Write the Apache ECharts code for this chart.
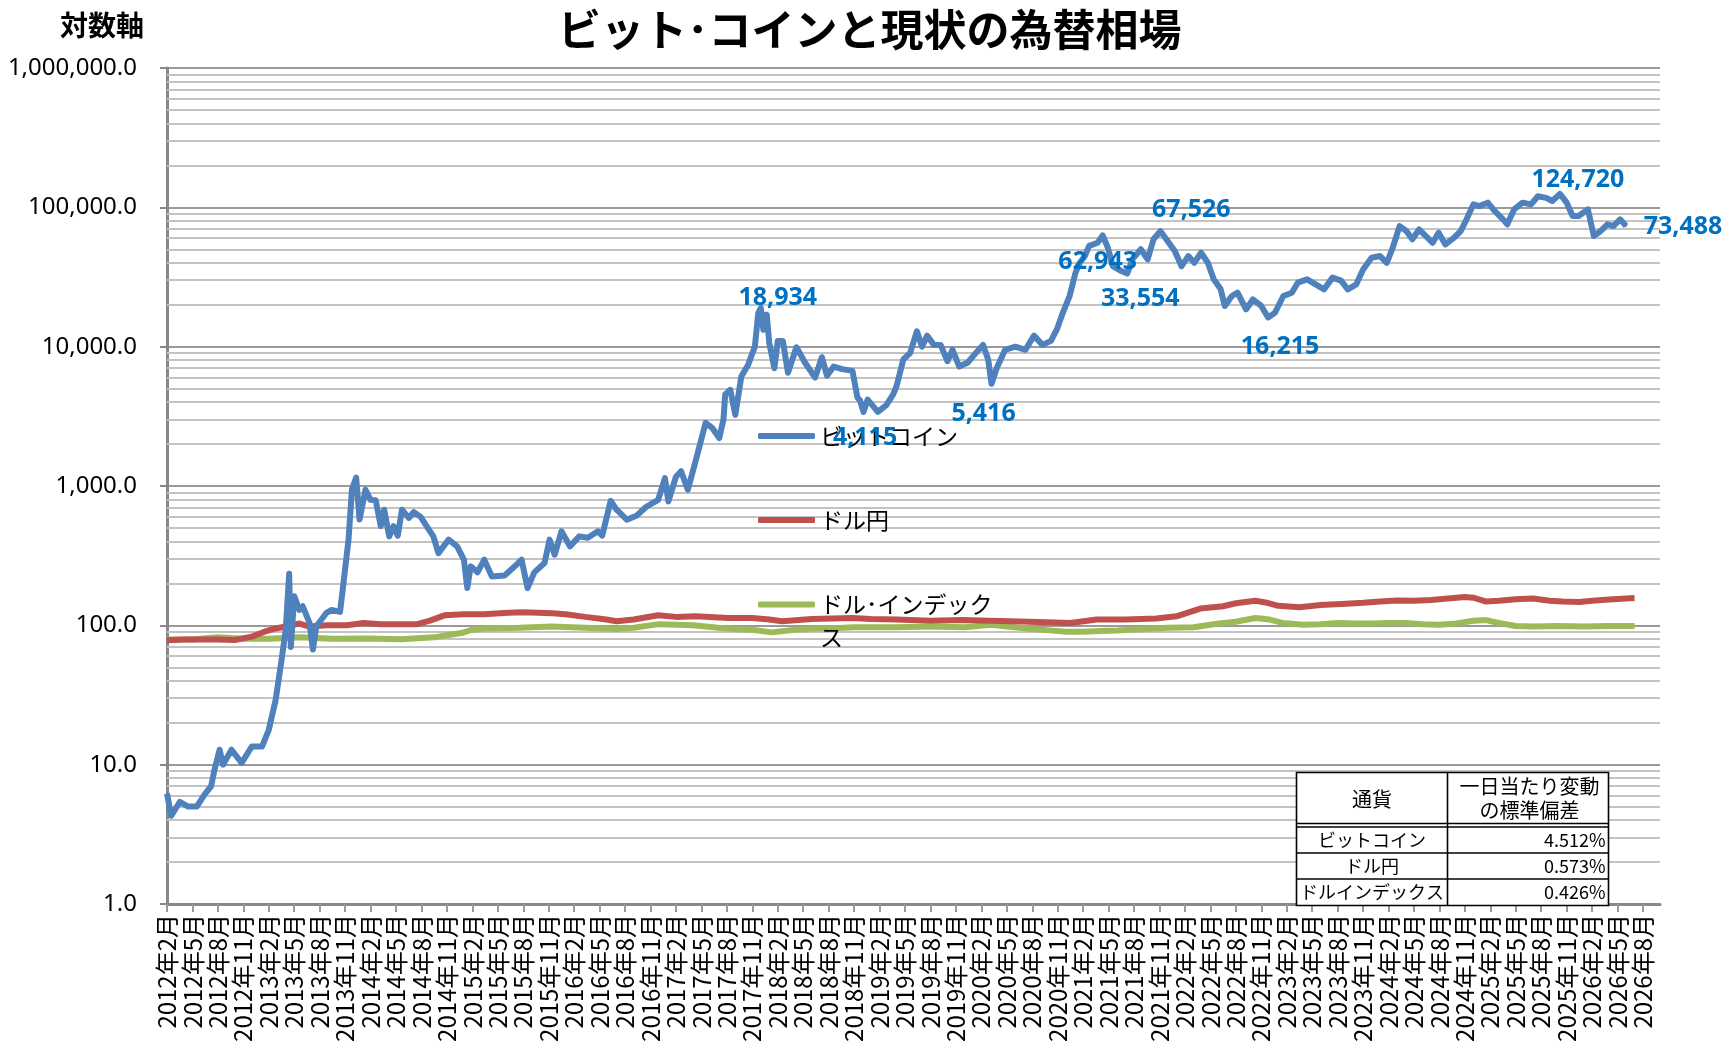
<!DOCTYPE html>
<html>
<head>
<meta charset="utf-8">
<script src="https://cdn.jsdelivr.net/npm/echarts@6/dist/echarts.min.js"></script>
<style>
  html, body { margin: 0; padding: 0; background: #fff; }
  #chart { width: 1727px; height: 1053px; }
</style>
</head>
<body>
<div id="chart"></div>
<script>
// x = months counted from 2012年2月 (0)
const btcMonths = [
  0, 0.5, 1.5, 2.5, 3.5, 4.5, 5.2, 5.6, 6.2, 6.6, 7.6, 8.8, 10, 11.2, 12, 12.8, 13.4, 14, 14.4, 14.6,
  15, 15.6, 16, 16.8, 17.2, 17.6, 18.8, 19.4, 20.4, 20.8, 21.4, 21.8, 22.3, 22.7, 23.4, 24, 24.6, 25.2, 25.6, 26.2,
  26.7, 27.2, 27.7, 28.5, 29.1, 29.9, 30.6, 31.4, 32, 33.2, 34.2, 35, 35.4, 35.8, 36.6, 37.4, 38.3, 39.8, 41, 41.8,
  42.5, 43.3, 44.5, 45.1, 45.7, 46.5, 47.5, 48.6, 49.6, 50.8, 51.3, 52.3, 53, 54.2, 55.4, 56.5, 57.9, 58.7, 59.1, 60,
  60.6, 61.4, 62.3, 63.5, 64.3, 65.1, 65.6, 65.8, 66.4, 67, 67.7, 68.5, 69.3, 69.7, 70, 70.3, 70.7, 71, 71.6, 72,
  72.6, 73.2, 74.2, 75.2, 76.4, 77.2, 77.8, 78.6, 79.6, 80.8, 81.4, 81.7, 82.1, 82.6, 83.8, 84.8, 85.6, 86, 86.8, 87.6,
  88.4, 89, 89.6, 90.4, 91.2, 92, 92.6, 93.4, 94.4, 95.2, 96.2, 96.8, 97.2, 97.8, 98.8, 100, 101.2, 102.2, 103.2, 104.2,
  104.9, 105.6, 106.4, 107.1, 107.6, 108.2, 108.7, 109.7, 110.3, 110.9, 111.5, 112.5, 113.2, 113.8, 114.8, 115.6, 116.3, 117.1, 117.8, 118.8,
  119.6, 120.4, 121.1, 121.9, 122.7, 123.4, 124.2, 124.7, 125.5, 126.2, 127.2, 128, 129, 129.8, 130.6, 131.6, 132.6, 133.3, 134.4, 135.4,
  136.4, 137.4, 138.4, 139.2, 140.2, 141, 142, 143, 143.8, 144.5, 145.3, 146.1, 146.8, 147.6, 148.4, 149.2, 149.9, 150.7, 151.7, 152.5,
  153.2, 154, 154.7, 155.7, 156.5, 157.5, 158, 158.8, 159.8, 160.8, 161.6, 162.6, 163.3, 164.2, 165, 165.7, 166.4, 167.5, 168.2, 169,
  169.8, 170.5, 171.3, 172
];
const btcValues = [
  6.2, 4.3, 5.4, 5.0, 5.0, 6.2, 7.0, 9.2, 12.8, 10, 12.8, 10.3, 13.5, 13.5, 17.8, 29, 51, 93, 235, 70,
  162, 129, 137, 104, 67, 98, 123, 129, 125, 200, 412, 942, 1150, 575, 940, 795, 790, 515, 676, 435,
  515, 440, 676, 590, 650, 600, 515, 435, 330, 412, 369, 296, 185, 265, 240, 296, 224, 228, 265, 296,
  185, 240, 280, 412, 321, 473, 369, 435, 425, 473, 440, 780, 676, 573, 615, 710, 795, 1140, 775, 1165,
  1275, 942, 1500, 2840, 2600, 2210, 3000, 4540, 4900, 3240, 6100, 7400, 10000, 17400, 18934, 13200, 17000, 10600, 7000, 11000,
  11000, 6500, 9900, 7700, 6000, 8400, 6200, 7200, 6900, 6700, 4300, 4115, 3400, 4170, 3400, 3800, 4540, 5200, 8100, 9000,
  12900, 10000, 12000, 10300, 10300, 7870, 9500, 7200, 7700, 8800, 10300, 8100, 5416, 7000, 9500, 10000, 9500, 12000, 10300, 11000,
  13300, 17500, 23100, 34000, 40000, 44600, 52900, 55700, 62943, 51500, 37800, 34900, 33554, 42300, 50000, 42300, 59000, 67526, 59000, 48600,
  37800, 44700, 40000, 47200, 40000, 30400, 25900, 19600, 23000, 24400, 18500, 21800, 19600, 16215, 17500, 23100, 24400, 28800, 30400, 28000,
  25800, 31300, 29800, 25800, 28000, 35800, 43500, 44700, 40000, 51500, 73400, 67600, 59000, 69300, 62200, 55700, 65800, 54200, 60300, 67600,
  82000, 105000, 102000, 108000, 94200, 82000, 75500, 96600, 108000, 105000, 120000, 117000, 111000, 124720, 108000, 86700, 86700, 96600, 62200, 67600,
  75500, 73400, 82000, 73488
];

const usdJpyMonths = [
  0, 2, 4, 6, 8, 10, 11.5, 12.8, 14, 15.6, 16.8, 18.8, 21.2, 23.2, 25.2, 27, 29.5, 31, 32.7, 35,
  37.4, 40.2, 42, 45.4, 47, 49.3, 51.8, 53, 55, 57.9, 60, 62.3, 66.2, 69, 71, 72.5, 76, 80.8, 83, 86,
  90, 93.8, 97, 101.7, 106.5, 109.6, 113, 116.6, 119, 121.8, 124.5, 126, 128.3, 129.5, 131, 133.5, 136, 139, 141, 143,
  145, 147, 149, 151, 153, 154, 155.5, 157, 159, 161, 163, 164.5, 166.5, 168, 170, 172, 173
];
const usdJpyValues = [
  78, 79, 79, 79, 78.5, 83, 90, 95, 98, 103, 98, 100, 100, 104, 102, 102, 102, 108, 118, 120,
  120, 123, 124, 122, 120, 115, 110, 107, 110, 118, 115, 116, 113, 113, 110, 107, 111, 113, 111, 110,
  108, 109, 108, 106, 104, 110, 110, 112, 116, 132, 137, 144, 150, 146, 138, 135, 140, 143, 145, 148,
  151, 150, 152, 156, 160, 158, 148, 150, 154, 156, 150, 148, 147, 150, 153, 156, 157
];

const dxyMonths = [
  0, 3, 6, 9, 12, 15.6, 19.5, 23.6, 27.6, 31.5, 33, 34.7, 36, 37.5, 41.5, 45.4, 49.3, 53, 55, 58,
  60, 62, 65, 67, 69, 71.3, 74, 76, 78, 81, 86, 90, 94, 97.2, 99, 102, 104, 106, 108, 110,
  112, 115, 118, 121, 124, 126, 128.3, 130, 131.5, 134, 136, 138, 140, 142, 144, 146, 148, 150, 152, 154,
  155.5, 157, 159, 161, 164, 167, 170, 173
];
const dxyValues = [
  79, 79, 82, 80, 80, 82, 80, 80.5, 79.5, 82, 85, 88, 93, 95, 96, 98, 96, 94, 96, 102,
  101, 100, 96, 94, 93, 89, 93, 95, 95, 97, 97, 98, 97, 101, 98, 94, 92, 90, 90, 91,
  92, 94, 96, 97, 103, 106, 113, 110, 104, 101, 102, 104, 103, 103, 104, 104, 102, 101, 103, 108,
  109, 104, 99, 98, 99, 98, 99, 99
];

// x tick every 3 months: 2012年2月 .. 2026年8月
const tickMonths = [];
for (let m = 0; m <= 174; m += 3) tickMonths.push(m);

const seriesNames = ['ビットコイン', 'ドル円', 'ドル･インデックス'];
const tableHeader = ['通貨', '一日当たり変動', 'の標準偏差'];
const tableStd = ['4.512%', '0.573%', '0.426%'];

// blue labels: month -> offset of label centre from the point
const btcLabelOffset = {
  70: [17, -10], 81.7: [5, 37], 97.2: [-8, 30], 110.3: [-5, 27], 113.2: [13, 25],
  117.1: [31, -21], 129.8: [12, 29], 164.2: [18, -14], 172: [57, 1]
};

// log-axis minor grid positions 2..9 x 10^n
const minorGrid = [];
for (let d = 1; d < 1000000; d *= 10) {
  for (let k = 2; k <= 9; k++) minorGrid.push(k * d);
}

function monthLabel(m) {
  const idx = 1 + Math.round(m);
  return (2012 + Math.floor(idx / 12)) + '年' + (idx % 12 + 1) + '月';
}

const jp = '"Noto Sans CJK JP", "Noto Sans", sans-serif';

const btcData = btcMonths.map((m, i) => {
  const off = btcLabelOffset[m];
  const item = { value: [m, btcValues[i]] };
  if (off) {
    item.label = {
      show: true, position: 'inside', offset: off,
      formatter: p => p.value[1].toLocaleString('en-US'),
      color: '#0070C0', fontSize: 25, fontWeight: 'bold',
      fontFamily: '"Noto Sans", sans-serif'
    };
  }
  return item;
});

const chart = echarts.init(document.getElementById('chart'), null, { renderer: 'canvas' });

const legendBase = {
  left: 758, padding: 0, icon: 'roundRect', itemWidth: 57, itemHeight: 6,
  selectedMode: false,
  textStyle: { fontSize: 23, lineHeight: 30, color: '#000', fontFamily: jp }
};

// table cells (drawn over the plot)
const tableLine = { stroke: '#000', lineWidth: 1.6 };
const tableCells = [
  { type: 'rect', shape: { x: 0, y: 0, width: 312, height: 133 }, style: { fill: '#fff', stroke: '#000', lineWidth: 1.6 } },
  { type: 'line', shape: { x1: 151, y1: 0, x2: 151, y2: 133 }, style: tableLine },
  { type: 'line', shape: { x1: 0, y1: 51, x2: 312, y2: 51 }, style: tableLine },
  { type: 'line', shape: { x1: 0, y1: 54.5, x2: 312, y2: 54.5 }, style: tableLine },
  { type: 'line', shape: { x1: 0, y1: 80.5, x2: 312, y2: 80.5 }, style: tableLine },
  { type: 'line', shape: { x1: 0, y1: 106.5, x2: 312, y2: 106.5 }, style: tableLine },
  { type: 'text', x: 75.5, y: 27, style: { text: tableHeader[0], align: 'center', verticalAlign: 'middle', font: '20px ' + jp, fill: '#000' } },
  { type: 'text', x: 233, y: 14, style: { text: tableHeader[1], align: 'center', verticalAlign: 'middle', font: '20px ' + jp, fill: '#000' } },
  { type: 'text', x: 233, y: 38, style: { text: tableHeader[2], align: 'center', verticalAlign: 'middle', font: '20px ' + jp, fill: '#000' } }
].concat(seriesNames.map((n, i) => ({
  type: 'text', x: 75.5, y: 68 + i * 26,
  style: { text: n.replace('･', ''), align: 'center', verticalAlign: 'middle', font: '18px ' + jp, fill: '#000' }
}))).concat(tableStd.map((s, i) => ({
  type: 'text', x: 309, y: 68 + i * 26,
  style: { text: s, align: 'right', verticalAlign: 'middle', font: '18px ' + jp, fill: '#000' }
}))).map(c => Object.assign(c, { z: 100 }));

chart.setOption({
  animation: false,
  backgroundColor: '#fff',
  title: [
    {
      text: 'ビット･コインと現状の為替相場', left: 558, top: 8, padding: 0,
      textStyle: { fontSize: 43, fontWeight: 'bold', color: '#000', fontFamily: jp }
    },
    {
      text: '対数軸', left: 55, top: 6,
      textStyle: { fontSize: 28, fontWeight: 'bold', color: '#000', fontFamily: jp }
    }
  ],
  legend: [
    Object.assign({}, legendBase, { data: [seriesNames[0]], top: 421 }),
    Object.assign({}, legendBase, { data: [seriesNames[1]], top: 505 }),
    Object.assign({}, legendBase, {
      data: [seriesNames[2]], top: 555,
      // blank first line keeps the icon level with the first visible line
      formatter: () => '\nドル･インデック\nス',
      textStyle: Object.assign({}, legendBase.textStyle, { lineHeight: 33 })
    })
  ],
  grid: { left: 167, top: 68, right: 67, bottom: 149, containLabel: false },
  xAxis: {
    type: 'value', min: 0, max: 176,
    axisLine: { show: true, lineStyle: { color: '#888', width: 3 } },
    axisTick: { show: true, length: 8, lineStyle: { color: '#999', width: 2 }, customValues: tickMonths },
    axisLabel: {
      customValues: tickMonths, rotate: 90, margin: 10,
      formatter: v => monthLabel(v),
      fontSize: 24, color: '#000', fontFamily: jp
    },
    splitLine: { show: false }
  },
  yAxis: {
    type: 'log', logBase: 10, min: 1, max: 1000000,
    axisLine: { show: true, lineStyle: { color: '#888', width: 3 } },
    axisTick: { show: true, length: 7, lineStyle: { color: '#888', width: 2 } },
    axisLabel: {
      margin: 30, fontSize: 24, color: '#000', fontFamily: '"Noto Sans", sans-serif',
      formatter: v => Number(v).toLocaleString('en-US', { minimumFractionDigits: 1, maximumFractionDigits: 1 })
    },
    splitLine: { show: true, lineStyle: { color: '#9a9a9a', width: 2 } }
  },
  series: [
    {
      name: 'minor-grid', type: 'line', data: [], z: 1, silent: true,
      markLine: {
        silent: true, symbol: ['none', 'none'], label: { show: false }, z: 1,
        lineStyle: { color: '#c3c3c3', width: 2, type: 'solid' },
        emphasis: { disabled: true },
        data: minorGrid.map(v => ({ yAxis: v }))
      }
    },
    {
      name: seriesNames[2], type: 'line', z: 3,
      data: dxyMonths.map((m, i) => [m, dxyValues[i]]),
      showSymbol: false, color: '#9BBB59',
      lineStyle: { width: 6, color: '#9BBB59' }
    },
    {
      name: seriesNames[1], type: 'line', z: 4,
      data: usdJpyMonths.map((m, i) => [m, usdJpyValues[i]]),
      showSymbol: false, color: '#C0504D',
      lineStyle: { width: 6, color: '#C0504D' }
    },
    {
      name: seriesNames[0], type: 'line', z: 5,
      data: btcData,
      symbol: 'circle', symbolSize: 2, showSymbol: true, showAllSymbol: true,
      color: '#4F81BD', itemStyle: { color: '#4F81BD' },
      lineStyle: { width: 6, color: '#4F81BD', join: 'round' }
    }
  ],
  graphic: [
    { type: 'group', left: 1294, top: 770, z: 100, children: tableCells }
  ]
});
</script>
</body>
</html>
